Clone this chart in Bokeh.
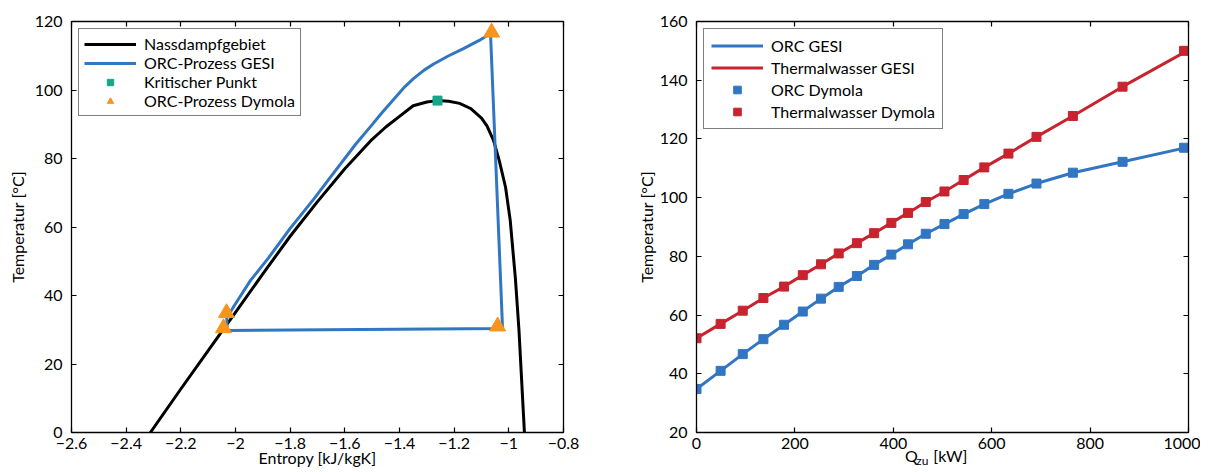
from bokeh.plotting import figure
from bokeh.layouts import row
from bokeh.models import (LinearAxis, FixedTicker, CustomJSTickFormatter, Range1d)
from bokeh.embed import file_html
from bokeh.resources import INLINE

# ---------------- Left chart: T-s diagram ----------------
sat_s = [-2.3115, -2.2, -2.1, -2.0, -1.9, -1.8, -1.7, -1.6, -1.5, -1.45, -1.4, -1.35, -1.30,
         -1.261, -1.22, -1.18, -1.14, -1.10, -1.08, -1.056, -1.035, -1.012, -0.995,
         -0.985, -0.976, -0.963, -0.953, -0.943]
sat_T = [0.0, 12.7, 23.9, 35.1, 46.3, 57.3, 67.4, 77.0, 85.6, 89.2, 92.3, 95.4, 96.5,
         96.9, 96.7, 96.1, 94.6, 91.8, 89.5, 85.3, 79.4, 71.6, 62.0,
         53.0, 45.0, 30.0, 15.0, 0.0]

gesi_s = [-2.030, -2.032, -2.00, -1.945, -1.88, -1.80, -1.713, -1.64, -1.559, -1.50,
          -1.465, -1.42, -1.38, -1.349, -1.31, -1.275, -1.22, -1.166, -1.11, -1.067,
          -1.023, -2.030]
gesi_T = [29.8, 33.5, 37.6, 44.4, 50.9, 59.6, 68.2, 75.9, 84.3, 89.9,
          93.3, 97.4, 101.0, 103.3, 105.8, 107.6, 110.0, 112.1, 114.4, 116.5,
          30.4, 29.8]

crit_s = [-1.261]
crit_T = [96.9]

dym_s = [-1.063, -2.033, -2.044, -1.041]
dym_T = [116.8, 34.9, 30.5, 31.0]

left_xticks = [-2.6, -2.4, -2.2, -2.0, -1.8, -1.6, -1.4, -1.2, -1.0, -0.8]
left_yticks = [0, 20, 40, 60, 80, 100, 120]

# ---------------- Right chart: heat transfer ----------------
q_dym = [0, 49, 94, 136, 178, 216, 253, 289, 326, 361, 396, 430, 466, 504, 543,
         585, 634, 691, 765, 866, 991]
T_orc_dym = [34.8, 41.0, 46.7, 51.8, 56.7, 61.2, 65.6, 69.6, 73.3, 77.1, 80.6, 84.1,
             87.7, 91.0, 94.4, 97.8, 101.3, 104.8, 108.5, 112.2, 117.0]
T_tw_dym = [52.1, 57.0, 61.5, 65.8, 69.7, 73.6, 77.3, 81.0, 84.5, 87.9, 91.4, 94.8,
            98.5, 102.1, 106.0, 110.3, 115.0, 120.7, 127.8, 137.8, 150.0]

q_gesi = [0, 49, 94, 136, 178, 216, 253, 289, 326, 361, 396, 430, 466, 504, 543,
          585, 634, 691, 765, 866, 1000]
T_orc_gesi = [34.8, 41.0, 46.7, 51.8, 56.7, 61.2, 65.6, 69.6, 73.3, 77.1, 80.6, 84.1,
              87.7, 91.0, 94.4, 97.8, 101.3, 104.8, 108.5, 112.2, 117.2]
T_tw_gesi = [52.1, 57.0, 61.5, 65.8, 69.7, 73.6, 77.3, 81.0, 84.5, 87.9, 91.4, 94.8,
             98.5, 102.1, 106.0, 110.3, 115.0, 120.7, 127.8, 137.8, 150.3]

right_xticks = [0, 200, 400, 600, 800, 1000]
right_yticks = [20, 40, 60, 80, 100, 120, 140, 160]

# x-axis title of the right chart: "Q" with subscript "zu", then "[kW]"
xlabel_main = ["Q", "[kW]"]
xlabel_sub = "zu"

FONT = "Lato"
FS = "16px"
BLUE = "#3176C2"
RED = "#C8232E"
GREEN = "#16A68A"
ORANGE = "#F7941D"

minus_fmt = CustomJSTickFormatter(code="""
var a = Math.round(Math.abs(tick)*10)/10;
return (tick < -1e-9 ? '\\u2212' : '') + a;
""")
int_fmt = CustomJSTickFormatter(code="return String(Math.round(tick));")


def style_axis(ax, show_labels=True):
    ax.major_tick_in = 5
    ax.major_tick_out = 0
    ax.minor_tick_line_color = None
    ax.axis_line_color = "black"
    ax.axis_line_width = 1.3
    ax.major_tick_line_color = "black"
    ax.major_tick_line_width = 1.2
    ax.major_label_text_font = FONT
    ax.major_label_text_color = "black"
    ax.axis_label_text_font = FONT
    ax.axis_label_text_font_size = FS
    ax.axis_label_text_font_style = "normal"
    ax.axis_label_text_color = "black"
    if show_labels:
        ax.major_label_text_font_size = FS
    else:
        ax.major_label_text_font_size = "0px"
        ax.major_label_standoff = 0
        ax.major_label_text_alpha = 0


def text_axis(ticks, code, size, standoff):
    """An axis without line or ticks, used only to place title text below the plot."""
    ax = LinearAxis(ticker=FixedTicker(ticks=ticks),
                    formatter=CustomJSTickFormatter(code=code))
    ax.axis_line_color = None
    ax.major_tick_line_color = None
    ax.minor_tick_line_color = None
    ax.major_tick_in = 0
    ax.major_tick_out = 0
    ax.major_label_text_font = FONT
    ax.major_label_text_font_size = size
    ax.major_label_text_color = "black"
    ax.major_label_standoff = standoff
    return ax


def make_fig(width, xr, yr, xticks, yticks, bl, br, fmt_x, fmt_y):
    p = figure(width=width, height=472,
               x_range=Range1d(*xr), y_range=Range1d(*yr),
               output_backend="svg", toolbar_location=None,
               min_border_left=bl, min_border_right=br,
               min_border_top=21, min_border_bottom=40,
               x_axis_location=None, y_axis_location=None)
    p.title = None
    p.xgrid.visible = False
    p.ygrid.visible = False
    p.outline_line_color = "black"
    bottom = LinearAxis(ticker=FixedTicker(ticks=xticks), formatter=fmt_x)
    left = LinearAxis(ticker=FixedTicker(ticks=yticks), formatter=fmt_y)
    top = LinearAxis(ticker=FixedTicker(ticks=xticks), formatter=fmt_x)
    right = LinearAxis(ticker=FixedTicker(ticks=yticks), formatter=fmt_y)
    for ax in (bottom, left):
        style_axis(ax)
    for ax in (top, right):
        style_axis(ax, show_labels=False)
    bottom.major_label_standoff = 5
    bottom.axis_label_standoff = -4
    left.major_label_standoff = 9
    left.axis_label_standoff = 5
    p.add_layout(bottom, "below")
    p.add_layout(left, "left")
    p.add_layout(top, "above")
    p.add_layout(right, "right")
    return p, bottom, left


# Left figure
p1, b1, l1 = make_fig(600, (-2.6, -0.8), (0, 120), left_xticks, left_yticks, 71, 37,
                      minus_fmt, int_fmt)
b1.axis_label = "Entropy [kJ/kgK]"
l1.axis_label = "Temperatur [°C]"
p1.line(sat_s, sat_T, line_color="black", line_width=3, legend_label="Nassdampfgebiet")
p1.line(gesi_s, gesi_T, line_color=BLUE, line_width=3, legend_label="ORC-Prozess GESI")
p1.scatter(crit_s, crit_T, marker="square", size=9, fill_color=GREEN, line_color=GREEN,
           legend_label="Kritischer Punkt")
p1.scatter(dym_s, dym_T, marker="triangle", size=16, fill_color=ORANGE, line_color=ORANGE,
           legend_label="ORC-Prozess Dymola")

# Right figure
p2, b2, l2 = make_fig(600, (0, 1000), (20, 160), right_xticks, right_yticks, 96, 12,
                      int_fmt, int_fmt)
l2.axis_label = "Temperatur [°C]"
l2.axis_label_standoff = 1
p2.line(q_gesi, T_orc_gesi, line_color=BLUE, line_width=3, legend_label="ORC GESI")
p2.line(q_gesi, T_tw_gesi, line_color=RED, line_width=3, legend_label="Thermalwasser GESI")
p2.scatter(q_dym, T_orc_dym, marker="square", size=9, fill_color=BLUE, line_color=BLUE,
           legend_label="ORC Dymola")
p2.scatter(q_dym, T_tw_dym, marker="square", size=9, fill_color=RED, line_color=RED,
           legend_label="Thermalwasser Dymola")

# axis title pieces (positions along the x axis, in kW)
sub_axis = text_axis([459], "return '%s';" % xlabel_sub, "12px", 1)
main_axis = text_axis([437, 516], "return tick < 480 ? '%s' : '%s';" % tuple(xlabel_main),
                      FS, -25)
p2.add_layout(sub_axis, "below")
p2.add_layout(main_axis, "below")

for p, lh, sp, pad in ((p1, 16, 0, 5), (p2, 19, 3, 7)):
    lg = p.legend[0]
    lg.location = "top_left"
    lg.margin = 7
    lg.padding = pad
    lg.spacing = sp
    lg.label_height = lh
    lg.glyph_height = lh
    lg.glyph_width = 52
    lg.label_standoff = 8
    lg.label_text_font = FONT
    lg.label_text_font_size = FS
    lg.label_text_color = "black"
    lg.border_line_color = "black"
    lg.border_line_width = 1.2
    lg.background_fill_alpha = 1.0

layout = row(p1, p2)
open("out.html", "w").write(file_html(layout, INLINE))
